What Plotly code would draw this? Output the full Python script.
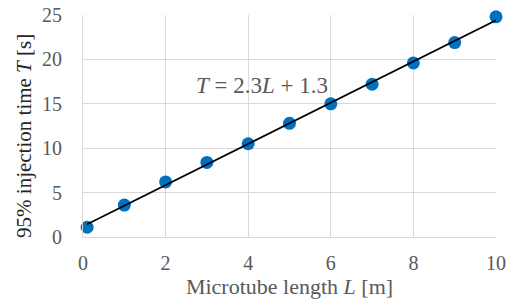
import numpy as np
import plotly.graph_objects as go

L_vals = [0.1, 1, 2, 3, 4, 5, 6, 7, 8, 9, 10]
T_vals = [1.1, 3.6, 6.2, 8.4, 10.5, 12.8, 15.0, 17.2, 19.6, 21.9, 24.8]
x_ticks = [0, 2, 4, 6, 8, 10]
y_ticks = [0, 5, 10, 15, 20, 25]
eq_label = "<i>T</i> = 2.3<i>L</i> + 1.3"
x_title = "Microtube length <i>L</i> [m]"
y_title = "95% injection time <i>T</i> [s]"

slope, intercept = np.polyfit(L_vals, T_vals, 1)
fit_x = [min(L_vals), max(L_vals)]
fit_y = [slope * v + intercept for v in fit_x]

font_fam = "Liberation Serif"
gray = "#595959"

fig = go.Figure()
fig.add_trace(go.Scatter(x=L_vals, y=T_vals, mode="markers", cliponaxis=False,
                         marker=dict(color="#0070C0", size=13), showlegend=False))
fig.add_trace(go.Scatter(x=fit_x, y=fit_y, mode="lines", cliponaxis=False,
                         line=dict(color="black", width=1.6), showlegend=False))
fig.add_annotation(x=4.33, y=17.1, text=eq_label, showarrow=False,
                   font=dict(family=font_fam, size=23, color=gray))
fig.add_annotation(xref="paper", yref="paper", x=-0.143, y=0.455, text=y_title,
                   textangle=-90, showarrow=False, xanchor="center", yanchor="middle",
                   font=dict(family=font_fam, size=21, color="#262626"))

fig.update_layout(
    width=516, height=304,
    margin=dict(l=83, r=20, t=15, b=67),
    paper_bgcolor="white", plot_bgcolor="white",
    font=dict(family=font_fam, size=20, color=gray),
)
fig.update_xaxes(range=[0, 10], tickvals=x_ticks, showgrid=True, gridcolor="#d9d9d9",
                 gridwidth=1, zeroline=False, showline=True, linecolor="#d9d9d9",
                 ticks="", ticklen=0, ticklabelstandoff=8, automargin=False,
                 ticklabeloverflow="allow",
                 title=dict(text=x_title, standoff=4, font=dict(size=22, color=gray)))
fig.update_yaxes(range=[0, 25], tickvals=y_ticks, showgrid=True, gridcolor="#d9d9d9",
                 gridwidth=1, zeroline=False, showline=True, linecolor="#d9d9d9",
                 ticks="", ticklen=0, ticklabelstandoff=16, automargin=False,
                 ticklabeloverflow="allow")
fig.write_html("out.html", config={"displayModeBar": False},
               post_script="document.body.style.margin='0px';document.body.style.overflow='hidden';")
